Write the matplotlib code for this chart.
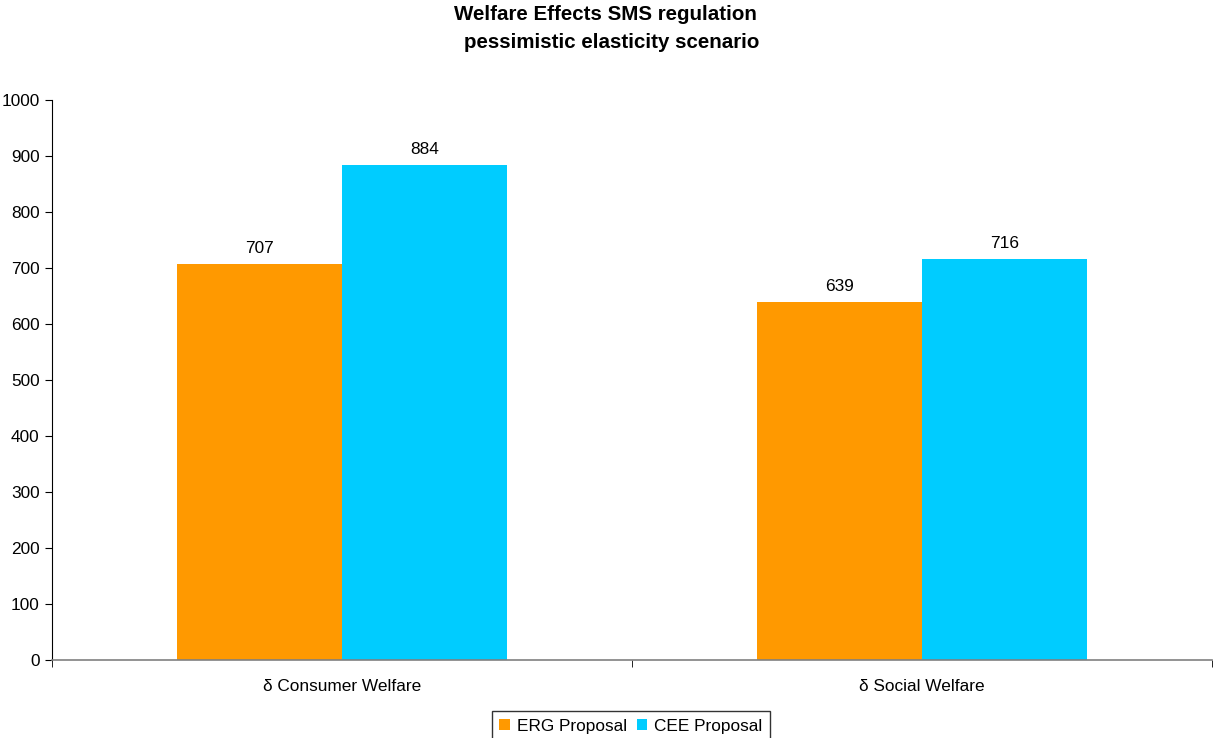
import numpy as np
import matplotlib
matplotlib.use("Agg")
import matplotlib.pyplot as plt

plt.rcParams['font.family'] = ['Liberation Sans', 'DejaVu Sans']

# === Data ===
categories = ["δ Consumer Welfare", "δ Social Welfare"]
erg_values = [707, 639]
cee_values = [884, 716]
series_names = ["ERG Proposal", "CEE Proposal"]
y_ticks = list(range(0, 1001, 100))

fs = 12.4

fig = plt.figure(figsize=(12.13, 7.38), dpi=100)
ax = fig.add_axes([52 / 1213, 78 / 738, 1160 / 1213, 560 / 738])

x = np.arange(len(categories))
w = 0.284
b1 = ax.bar(x - w / 2, erg_values, width=w, color='#FF9900', label=series_names[0])
b2 = ax.bar(x + w / 2, cee_values, width=w, color='#00CCFF', label=series_names[1])

for bars in (b1, b2):
    for rect in bars:
        ax.annotate(f"{rect.get_height():.0f}",
                    (rect.get_x() + rect.get_width() / 2, rect.get_height()),
                    xytext=(0, 6), textcoords='offset points',
                    ha='center', va='bottom', fontsize=fs)

ax.set_xlim(-0.5, 1.5)
ax.set_ylim(0, 1000)
ax.set_yticks(y_ticks)
ax.tick_params(axis='y', direction='out', length=5, labelsize=fs, pad=4)

# category labels at centres, tick marks at the boundaries
ax.set_xticks(x)
ax.set_xticklabels(categories, fontsize=fs)
ax.tick_params(axis='x', which='major', length=0, pad=14)
ax.set_xticks([-0.5, 0.5, 1.5], minor=True)
ax.tick_params(axis='x', which='minor', direction='out', length=5, color='black')

ax.spines['top'].set_visible(False)
ax.spines['right'].set_visible(False)
ax.spines['left'].set_color('black')
ax.spines['bottom'].set_color('#808080')
ax.spines['bottom'].set_linewidth(1.2)

fig.text(605 / 1213, 1 - 15 / 738, "Welfare Effects SMS regulation", ha='center', va='center',
         fontsize=14.8, fontweight='bold')
fig.text(612 / 1213, 1 - 42 / 738, "pessimistic elasticity scenario", ha='center', va='center',
         fontsize=14.8, fontweight='bold')

leg = ax.legend(loc='upper center', bbox_to_anchor=(631 / 1213, 1 - 711 / 738),
                bbox_transform=fig.transFigure, ncol=2, fontsize=fs, frameon=True,
                fancybox=False, handlelength=0.6, handleheight=0.6, handletextpad=0.4,
                columnspacing=0.6, borderpad=0.45, borderaxespad=0)
leg.get_frame().set_edgecolor('black')
leg.get_frame().set_linewidth(1.0)

fig.savefig("out.png", dpi=100)
